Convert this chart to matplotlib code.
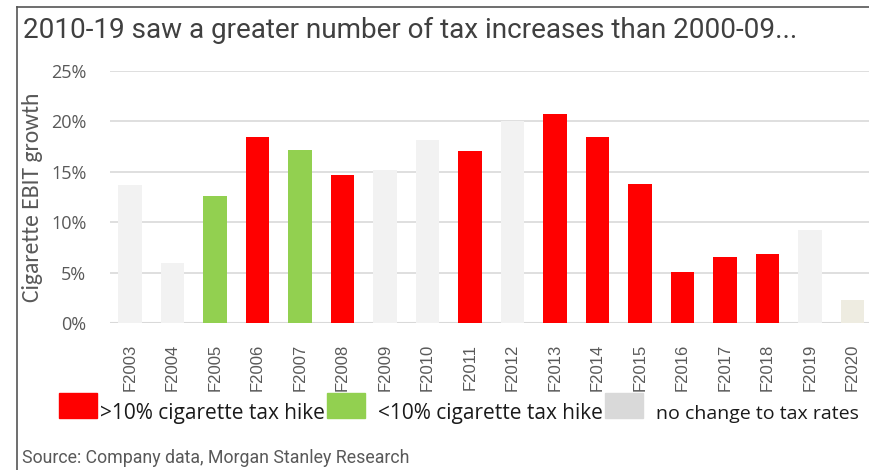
import matplotlib.pyplot as plt
from matplotlib.patches import Rectangle
from matplotlib.lines import Line2D
import numpy as np

years = ["F2003", "F2004", "F2005", "F2006", "F2007", "F2008", "F2009", "F2010", "F2011",
         "F2012", "F2013", "F2014", "F2015", "F2016", "F2017", "F2018", "F2019", "F2020"]
growth = [13.7, 6.0, 12.6, 18.5, 17.2, 14.7, 15.2, 18.2, 17.1,
          20.0, 20.7, 18.5, 13.8, 5.1, 6.5, 6.8, 9.2, 2.3]
category = ["none", "none", "small", "big", "small", "big", "none", "none", "big",
            "none", "big", "big", "big", "big", "big", "big", "none", "proj"]
legend_labels = [">10% cigarette tax hike", "<10% cigarette tax hike", "no change to tax rates"]

cmap = {"big": "#ff0000", "small": "#92d050", "none": "#f2f2f2", "proj": "#eeece1"}
grey = "#595959"
rob = ["Roboto", "DejaVu Sans"]
cal = ["Carlito", "DejaVu Sans"]
osans = ["Open Sans", "DejaVu Sans"]
arial = ["Liberation Sans", "DejaVu Sans"]

fig = plt.figure(figsize=(8.7, 4.7), dpi=100)
ax = fig.add_axes([110/870, 1 - 323/470, 760/870, 252/470])

x = np.arange(len(years))
ax.bar(x, growth, width=0.55, color=[cmap[c] for c in category], zorder=3)
ax.set_xlim(-0.47, 17.41)
ax.set_ylim(0, 25)
ax.set_yticks(np.arange(0, 26, 5))
ax.set_yticklabels([f"{v}%" for v in range(0, 26, 5)], color=grey, fontsize=13, family=osans)
ax.set_xticks(x)
ax.set_xticklabels(years, rotation=90, color=grey, fontsize=12, family=arial)
ax.tick_params(axis="y", length=0, pad=17)
ax.tick_params(axis="x", length=0, pad=15)
ax.yaxis.grid(True, color="#d9d9d9", linewidth=1.2, zorder=0)
for s in ax.spines.values():
    s.set_visible(False)
ax.axhline(0, color="#d9d9d9", linewidth=1.5, zorder=2)
ax.set_ylabel("Cigarette EBIT growth", color=grey, fontsize=17, family=cal)
ax.yaxis.set_label_coords(-67/760, 0.5)

# frame
fig.add_artist(Line2D([17/870, 17/870], [0, 1 - 7/470], color="#555555", linewidth=1.2))
fig.add_artist(Line2D([17/870, 1], [1 - 7/470, 1 - 7/470], color="#555555", linewidth=1.2))

fig.text(23/870, 1 - 30/470, "2010-19 saw a greater number of tax increases than 2000-09...",
         fontsize=20.1, color="#404040", family=rob, va="center")

# legend
legend_colors = ["#ff0000", "#92d050", "#d9d9d9"]
box_x = [59, 327, 605]
text_x = [100, 378, 656]
sizes = [15, 15, 14]
for bx, tx, col, lab, fs in zip(box_x, text_x, legend_colors, legend_labels, sizes):
    fig.add_artist(Rectangle((bx/870, 1 - 418/470), 38/870, 25/470, color=col))
    fig.text(tx/870, 1 - 419/470, lab, fontsize=fs, color="#1a1a1a", family=osans, va="baseline")

fig.text(22/870, 1 - 463/470, "Source: Company data, Morgan Stanley Research",
         fontsize=12.8, color=grey, family=rob, va="baseline")

fig.savefig("out.png", dpi=100)
